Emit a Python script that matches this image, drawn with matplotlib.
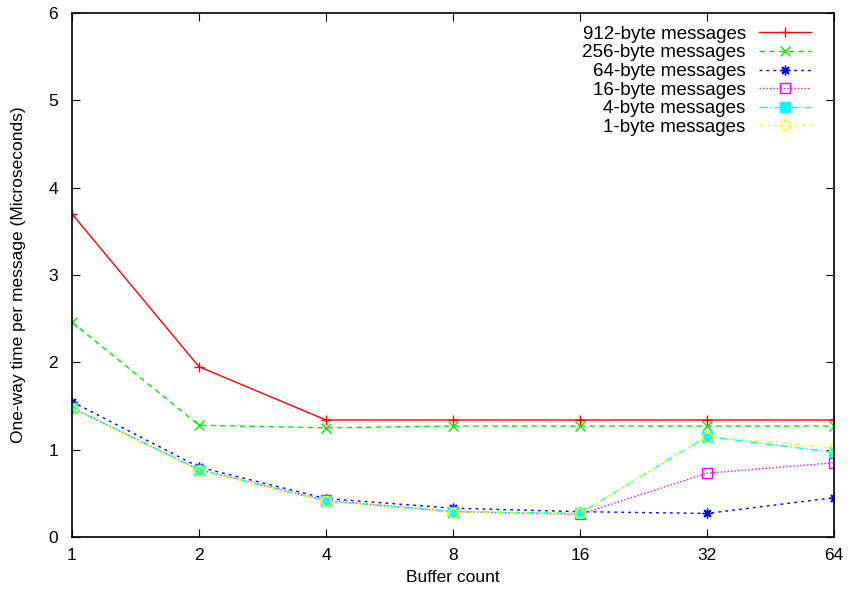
import matplotlib
matplotlib.use("Agg")
import matplotlib.pyplot as plt

plt.rcParams['font.family'] = ['Liberation Sans', 'DejaVu Sans']

buffers = [1, 2, 4, 8, 16, 32, 64]
tick_labels = ['1', '2', '4', '8', '16', '32', '64']

msg_912 = [3.70, 1.95, 1.34, 1.34, 1.34, 1.34, 1.34]
msg_256 = [2.46, 1.28, 1.25, 1.27, 1.27, 1.27, 1.27]
msg_64 = [1.55, 0.80, 0.44, 0.33, 0.29, 0.27, 0.45]
msg_16 = [1.48, 0.77, 0.42, 0.29, 0.26, 0.73, 0.85]
msg_4 = [1.48, 0.77, 0.41, 0.29, 0.27, 1.15, 0.97]
msg_1 = [1.47, 0.76, 0.41, 0.28, 0.27, 1.15, 1.02]

series = [
    ('912-byte messages', msg_912, '#ff0000', '-', '+', 'none'),
    ('256-byte messages', msg_256, '#00ee00', (0, (4, 3)), 'x', 'none'),
    ('64-byte messages', msg_64, '#0000ff', (0, (2, 3)), (8, 2, 0), 'none'),
    ('16-byte messages', msg_16, '#ff00ff', (0, (1, 1.5)), 's', 'none'),
    ('4-byte messages', msg_4, '#00ffff', (0, (6, 2, 1, 2)), 's', '#00ffff'),
    ('1-byte messages', msg_1, '#ffff00', (0, (3, 3, 1, 3)), 'o', 'none'),
]

fig = plt.figure(figsize=(8.48, 5.92), dpi=100)
ax = fig.add_axes([72 / 848, 1 - 537 / 592, (834 - 72) / 848, (537 - 13) / 592])

xpos = list(range(len(buffers)))
for label, vals, color, ls, marker, fc in series:
    ax.plot(xpos, vals, color=color, linestyle=ls, linewidth=1,
            marker=marker, markersize=7, markerfacecolor=fc,
            markeredgecolor=color, markeredgewidth=1, label=label)

ax.set_xlim(0, len(buffers) - 1)
ax.set_ylim(0, 6)
ax.set_xticks(xpos)
ax.set_xticklabels(tick_labels)
ax.set_yticks(range(7))
ax.tick_params(direction='in', top=True, right=True, labelsize=12.5, length=6)
ax.tick_params(axis='x', pad=8)
ax.tick_params(axis='y', pad=10)
for s in ax.spines.values():
    s.set_linewidth(1.2)
ax.set_xlabel('Buffer count', fontsize=12.5, labelpad=5)
ax.set_ylabel('One-way time per message (Microseconds)', fontsize=12.5, labelpad=16)

ax.legend(loc='upper right', markerfirst=False, frameon=False, fontsize=13.5,
          handlelength=2.8, labelspacing=0.08, borderaxespad=0.0,
          handletextpad=0.7, bbox_to_anchor=(0.98, 0.99))

fig.savefig('out.png', dpi=100)
